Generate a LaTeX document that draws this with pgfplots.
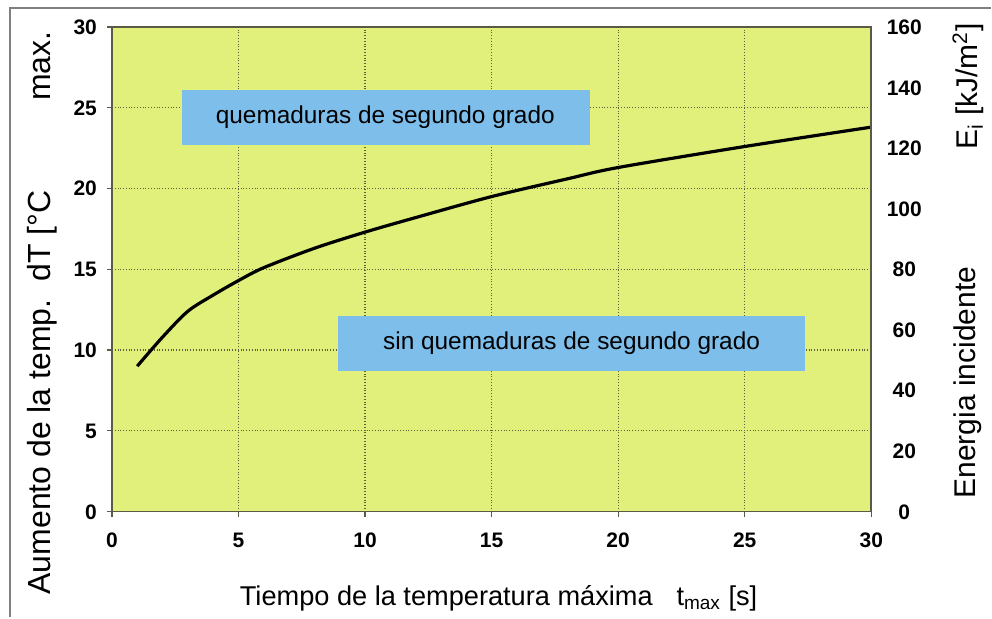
\documentclass[border=0pt]{standalone}
\usepackage{fontspec}
\setmainfont{Liberation Sans}
\usepackage{pgfplots}
\pgfplotsset{compat=1.18}
\definecolor{bgyel}{RGB}{225,240,122}
\definecolor{boxblue}{RGB}{125,190,235}
\definecolor{gridc}{RGB}{95,95,60}
\definecolor{axc}{RGB}{90,90,70}
\begin{document}
\begin{tikzpicture}
\begin{axis}[
 at={(0,0)}, anchor=south west,
 scale only axis, width=380pt, height=242.5pt,
 xmin=0,xmax=30,ymin=0,ymax=30,
 xtick={0,5,...,30}, ytick={0,5,...,30},
 axis background/.style={fill=bgyel},
 grid=major, major grid style={gridc, densely dotted, line width=0.6pt},
 tick align=outside, major tick length=2.5pt,
 xtick pos=bottom, ytick pos=left,
 tick style={axc, line width=0.6pt},
 axis line style={axc, line width=0.8pt},
 ticklabel style={font=\fontsize{10.5}{12}\selectfont\bfseries},
 /pgf/number format/assume math mode=true,
 xticklabel style={anchor=north, text height=7.5pt, text depth=0pt, yshift=-4.5pt},
 yticklabel style={anchor=east, text height=7.5pt, text depth=0pt, xshift=-1.5pt},
 clip=false,
]
\addplot[fill=boxblue, draw=none] coordinates {(2.76,22.7) (18.87,22.7) (18.87,26.1) (2.76,26.1)} --cycle;
\addplot[fill=boxblue, draw=none] coordinates {(8.92,8.72) (27.4,8.72) (27.4,12.12) (8.92,12.12)} --cycle;
\node[font=\fontsize{12.2}{14}\selectfont] at (axis cs:10.8,24.4) {quemaduras de segundo grado};
\node[font=\fontsize{12.2}{14}\selectfont] at (axis cs:18.16,10.42) {sin quemaduras de segundo grado};
\addplot[black, line width=1.6pt, smooth, tension=0.5] coordinates {
(1,9) (2,10.8) (3,12.4) (4,13.4) (5,14.3) (6,15.1) (8,16.3) (10,17.3) (12,18.2) (15,19.5) (18,20.6) (20,21.3) (25,22.6) (30,23.8)};
\end{axis}
\begin{axis}[
 at={(0,0)}, anchor=south west,
 scale only axis, width=380pt, height=242.5pt,
 xmin=0,xmax=30,ymin=0,ymax=160,
 axis x line=none, axis y line*=right,
 ytick={0,20,...,160}, major tick length=0pt,
 axis line style={axc, line width=0.8pt},
 ticklabel style={font=\fontsize{10.5}{12}\selectfont\bfseries},
 /pgf/number format/assume math mode=true,
 yticklabel style={anchor=center, text height=7.5pt, text depth=0pt, xshift=16.5pt},
]
\addplot[draw=none] coordinates {(0,0)};
\end{axis}
\begin{scope}[x=0.5pt,y=0.5pt]
\path (-112,-106) rectangle (880,512);
\draw[gray, line width=0.8pt] (-102,-106) -- (-102,504) -- (880,504);
\node[rotate=90, anchor=west, font=\fontsize{16}{18}\selectfont] at (-70,-90) {Aumento de la temp.\ \ dT [°C};
\node[rotate=90, anchor=west, font=\fontsize{16}{18}\selectfont] at (-70,404) {max.};
\node[rotate=90, anchor=west, font=\fontsize{15}{17}\selectfont] at (857,6) {Energia incidente};
\node[rotate=90, anchor=west, font=\fontsize{15}{17}\selectfont] at (857,355) {E\textsubscript{i} [kJ/m\textsuperscript{2}]};
\node[anchor=west, font=\fontsize{13.6}{16}\selectfont] at (121,-87) {Tiempo de la temperatura máxima};
\node[anchor=west, font=\fontsize{13.6}{16}\selectfont] at (558,-87) {t\textsubscript{max} [s]};
\end{scope}
\end{tikzpicture}
\end{document}
